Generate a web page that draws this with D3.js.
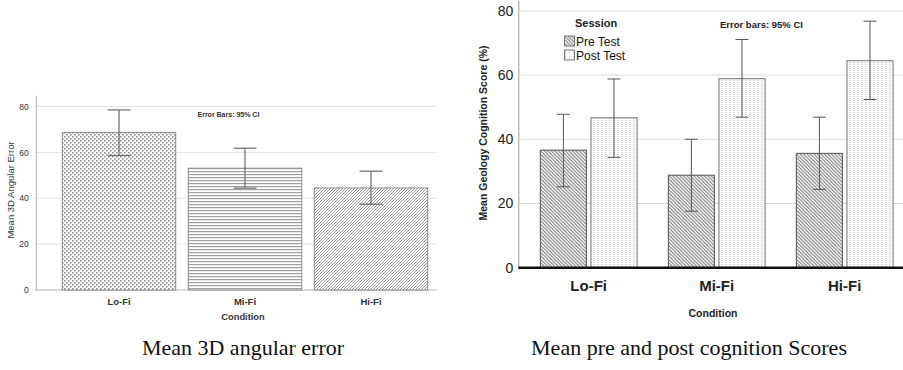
<!DOCTYPE html>
<html>
<head>
<meta charset="utf-8">
<script src="https://cdn.jsdelivr.net/npm/d3@7"></script>
<style>
  body { margin: 0; background: #fff; }
  svg { display: block; }
</style>
</head>
<body>
<svg id="chart" width="903" height="370"></svg>
<script>
// ---- data ----
const conditions = ['Lo-Fi', 'Mi-Fi', 'Hi-Fi'];

// left panel: mean 3D angular error with 95% CI
const angularMean = [68.6, 53.1, 44.5];
const angularLow = [58.6, 44.4, 37.4];
const angularHigh = [78.5, 61.8, 51.8];
const angularTicks = [0, 20, 40, 60, 80];

// right panel: geology cognition score, pre/post
const sessions = ['Pre Test', 'Post Test'];
const preMean = [36.6, 28.8, 35.6];
const preLow = [25.2, 17.6, 24.4];
const preHigh = [47.8, 40.0, 46.9];
const postMean = [46.7, 58.9, 64.5];
const postLow = [34.4, 46.9, 52.4];
const postHigh = [58.8, 71.1, 76.8];
const scoreTicks = [0, 20, 40, 60, 80];

const svg = d3.select('#chart');
const sans = 'Liberation Sans, Arial, sans-serif';

// ---- patterns ----
const defs = svg.append('defs');

function pattern(id, w, h, draw) {
  const p = defs.append('pattern')
    .attr('id', id)
    .attr('patternUnits', 'userSpaceOnUse')
    .attr('width', w)
    .attr('height', h);
  p.append('rect').attr('width', w).attr('height', h).attr('fill', '#fff');
  draw(p);
}

// dotted (Lo-Fi)
pattern('dots', 4, 4, p => {
  p.append('rect').attr('x', 0).attr('y', 0).attr('width', 1.6).attr('height', 1.6).attr('fill', '#929292');
  p.append('rect').attr('x', 2).attr('y', 2).attr('width', 1.6).attr('height', 1.6).attr('fill', '#929292');
});
// horizontal lines (Mi-Fi)
pattern('hlines', 4, 3, p => {
  p.append('rect').attr('x', 0).attr('y', 0).attr('width', 4).attr('height', 1.2).attr('fill', '#a0a0a0');
});
// forward diagonal (Hi-Fi)
pattern('fdiag', 3, 3, p => {
  p.append('path').attr('d', 'M-1,1 L1,-1 M0,3 L3,0 M2,4 L4,2')
    .attr('stroke', '#8c8c8c').attr('stroke-width', 0.9);
});
// back diagonal (Pre Test)
pattern('bdiag', 3.5, 3.5, p => {
  p.append('path').attr('d', 'M-1,2.5 L1,4.5 M0,0 L3.5,3.5 M2.5,-1 L4.5,1')
    .attr('stroke', '#6e6e6e').attr('stroke-width', 1);
});
// vertical dotted lines (Post Test)
pattern('vdots', 4, 2, p => {
  p.append('rect').attr('x', 1).attr('y', 0).attr('width', 1).attr('height', 1).attr('fill', '#b8b8b8');
});

// =========================================================
// Left panel
// =========================================================
const L = { left: 35.7, right: 436.7, top: 95, bottom: 290 };

const yL = d3.scaleLinear().domain([0, 85]).range([L.bottom, L.top]);
const xL = d3.scaleBand().domain(conditions).range([56, 434])
  .paddingInner(0.1).paddingOuter(0.05);

const gL = svg.append('g');

gL.append('g')
  .selectAll('line')
  .data(angularTicks.filter(d => d > 0))
  .join('line')
  .attr('x1', L.left).attr('x2', L.right)
  .attr('y1', d => yL(d)).attr('y2', d => yL(d))
  .attr('stroke', '#e2e2e2');

gL.append('g')
  .attr('transform', `translate(${L.left},0)`)
  .call(d3.axisLeft(yL).tickValues(angularTicks).tickSize(0).tickPadding(7))
  .call(g => g.select('.domain').attr('stroke', '#b5b5b5'))
  .call(g => g.selectAll('text').attr('font-family', sans).attr('font-size', 8.5).attr('fill', '#333'));

gL.append('line')
  .attr('x1', L.left).attr('x2', L.right)
  .attr('y1', L.bottom).attr('y2', L.bottom)
  .attr('stroke', '#b5b5b5');

const fillsL = ['url(#dots)', 'url(#hlines)', 'url(#fdiag)'];
gL.append('g')
  .selectAll('rect')
  .data(conditions)
  .join('rect')
  .attr('x', d => xL(d))
  .attr('width', xL.bandwidth())
  .attr('y', (d, i) => yL(angularMean[i]))
  .attr('height', (d, i) => yL(0) - yL(angularMean[i]))
  .attr('fill', (d, i) => fillsL[i])
  .attr('stroke', '#8a8a8a')
  .attr('stroke-width', 1);

const errL = gL.append('g').attr('stroke', '#6a6a6a').attr('stroke-width', 1.2);
conditions.forEach((c, i) => {
  const cx = xL(c) + xL.bandwidth() / 2;
  errL.append('line').attr('x1', cx).attr('x2', cx).attr('y1', yL(angularLow[i])).attr('y2', yL(angularHigh[i]));
  errL.append('line').attr('x1', cx - 11.5).attr('x2', cx + 11.5).attr('y1', yL(angularLow[i])).attr('y2', yL(angularLow[i]));
  errL.append('line').attr('x1', cx - 11.5).attr('x2', cx + 11.5).attr('y1', yL(angularHigh[i])).attr('y2', yL(angularHigh[i]));
});

gL.append('g')
  .selectAll('text')
  .data(conditions)
  .join('text')
  .attr('x', d => xL(d) + xL.bandwidth() / 2)
  .attr('y', 305)
  .attr('text-anchor', 'middle')
  .attr('font-family', sans).attr('font-size', 9.5).attr('font-weight', 'bold').attr('fill', '#333')
  .text(d => d);

gL.append('text')
  .attr('x', 243).attr('y', 320)
  .attr('text-anchor', 'middle')
  .attr('font-family', sans).attr('font-size', 9.3).attr('font-weight', 'bold').attr('fill', '#333')
  .text('Condition');

gL.append('text')
  .attr('transform', 'translate(14,190) rotate(-90)')
  .attr('text-anchor', 'middle')
  .attr('font-family', sans).attr('font-size', 9.5).attr('fill', '#333')
  .text('Mean 3D Angular Error');

gL.append('text')
  .attr('x', 197.5).attr('y', 116.5)
  .attr('font-family', sans).attr('font-size', 7).attr('font-weight', 'bold').attr('fill', '#333')
  .text('Error Bars: 95% CI');

// =========================================================
// Right panel
// =========================================================
const R = { left: 518.3, right: 903, top: 0, bottom: 267.7 };

const yR = d3.scaleLinear().domain([0, 83.4]).range([R.bottom, R.top]);
const x0 = d3.scaleBand().domain(conditions).range([524.7, 908.7])
  .paddingInner(0.245).paddingOuter(0.1225);
const x1 = d3.scaleBand().domain(sessions).range([0, x0.bandwidth()]).paddingInner(0.09);

const gR = svg.append('g');

gR.append('g')
  .selectAll('line')
  .data(scoreTicks.filter(d => d > 0))
  .join('line')
  .attr('x1', R.left).attr('x2', R.right)
  .attr('y1', d => yR(d)).attr('y2', d => yR(d))
  .attr('stroke', '#dcdcdc');

gR.append('g')
  .attr('transform', `translate(${R.left},0)`)
  .call(d3.axisLeft(yR).tickValues(scoreTicks).tickSize(0).tickPadding(5))
  .call(g => g.select('.domain').attr('stroke', '#9a9a9a'))
  .call(g => g.selectAll('text').attr('font-family', sans).attr('font-size', 14).attr('fill', '#222'));

const series = [
  { key: 'Pre Test', mean: preMean, low: preLow, high: preHigh, fill: 'url(#bdiag)', stroke: '#666' },
  { key: 'Post Test', mean: postMean, low: postLow, high: postHigh, fill: 'url(#vdots)', stroke: '#888' }
];

const groups = gR.append('g')
  .selectAll('g')
  .data(conditions)
  .join('g')
  .attr('transform', d => `translate(${x0(d)},0)`);

groups.selectAll('rect')
  .data((c, i) => series.map(s => ({ s, i })))
  .join('rect')
  .attr('x', d => x1(d.s.key))
  .attr('width', x1.bandwidth())
  .attr('y', d => yR(d.s.mean[d.i]))
  .attr('height', d => yR(0) - yR(d.s.mean[d.i]))
  .attr('fill', d => d.s.fill)
  .attr('stroke', d => d.s.stroke)
  .attr('stroke-width', 1.2);

const errR = gR.append('g').attr('stroke', '#555').attr('stroke-width', 1);
conditions.forEach((c, i) => {
  series.forEach(s => {
    const cx = x0(c) + x1(s.key) + x1.bandwidth() / 2;
    const lo = yR(s.low[i]), hi = yR(s.high[i]);
    errR.append('line').attr('x1', cx).attr('x2', cx).attr('y1', lo).attr('y2', hi);
    errR.append('line').attr('x1', cx - 6.5).attr('x2', cx + 6.5).attr('y1', lo).attr('y2', lo);
    errR.append('line').attr('x1', cx - 6.5).attr('x2', cx + 6.5).attr('y1', hi).attr('y2', hi);
  });
});

gR.append('line')
  .attr('x1', R.left).attr('x2', R.right)
  .attr('y1', R.bottom).attr('y2', R.bottom)
  .attr('stroke', '#111').attr('stroke-width', 2.5);

gR.append('g')
  .selectAll('text')
  .data(conditions)
  .join('text')
  .attr('x', d => x0(d) + x0.bandwidth() / 2)
  .attr('y', 290.5)
  .attr('text-anchor', 'middle')
  .attr('font-family', sans).attr('font-size', 15).attr('font-weight', 'bold').attr('fill', '#222')
  .text(d => d);

gR.append('text')
  .attr('x', 713).attr('y', 317)
  .attr('text-anchor', 'middle')
  .attr('font-family', sans).attr('font-size', 10.5).attr('font-weight', 'bold').attr('fill', '#222')
  .text('Condition');

gR.append('text')
  .attr('transform', 'translate(487,133) rotate(-90)')
  .attr('text-anchor', 'middle')
  .attr('font-family', sans).attr('font-size', 10.5).attr('font-weight', 'bold').attr('fill', '#222')
  .text('Mean Geology Cognition Score (%)');

gR.append('text')
  .attr('x', 720).attr('y', 27.5)
  .attr('font-family', sans).attr('font-size', 9.5).attr('font-weight', 'bold').attr('fill', '#222')
  .text('Error bars: 95% CI');

// legend
const legend = gR.append('g');
legend.append('text')
  .attr('x', 575).attr('y', 27)
  .attr('font-family', sans).attr('font-size', 11).attr('font-weight', 'bold').attr('fill', '#222')
  .text('Session');

series.forEach((s, k) => {
  const ly = 36 + k * 14;
  legend.append('rect')
    .attr('x', 564.5).attr('y', ly)
    .attr('width', 10).attr('height', 10)
    .attr('fill', s.fill).attr('stroke', '#777');
  legend.append('text')
    .attr('x', 576).attr('y', ly + 9.5)
    .attr('font-family', sans).attr('font-size', 12).attr('fill', '#111')
    .text(s.key);
});

// =========================================================
// Captions
// =========================================================
const serif = 'Liberation Serif, DejaVu Serif, serif';
svg.append('text')
  .attr('x', 243).attr('y', 355)
  .attr('text-anchor', 'middle')
  .attr('font-family', serif).attr('font-size', 22).attr('fill', '#111')
  .text('Mean 3D angular error');
svg.append('text')
  .attr('x', 689).attr('y', 355)
  .attr('text-anchor', 'middle')
  .attr('font-family', serif).attr('font-size', 22).attr('fill', '#111')
  .text('Mean pre and post cognition Scores');
</script>
</body>
</html>
